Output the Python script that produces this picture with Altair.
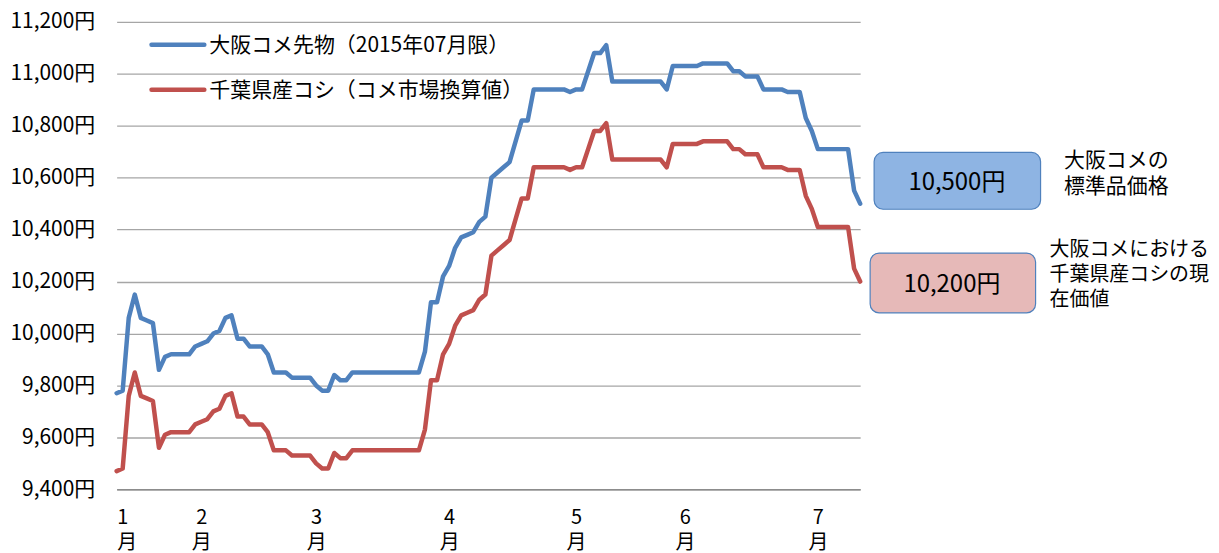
import altair as alt
import pandas as pd

FONT = "Noto Sans CJK JP"

# ---- data ----
month_labels = ["1", "2", "3", "4", "5", "6", "7"]
month_start_idx = [0, 14, 33, 55, 76, 94, 116]
y_ticks = [9400, 9600, 9800, 10000, 10200, 10400, 10600, 10800, 11000, 11200]
series_names = ["大阪コメ先物（2015年07月限）", "千葉県産コシ（コメ市場換算値）"]
series_colors = ["#4F81BD", "#C0504D"]

osaka = [
    9770, 9780, 10060, 10150, 10060, 10050, 10040, 9860, 9910, 9920,
    9920, 9920, 9920, 9950, 9960, 9970, 10000, 10010, 10060, 10070,
    9980, 9980, 9950, 9950, 9950, 9920, 9850, 9850, 9850, 9830,
    9830, 9830, 9830, 9800, 9780, 9780, 9840, 9820, 9820, 9850,
    9850, 9850, 9850, 9850, 9850, 9850, 9850, 9850, 9850, 9850,
    9850, 9930, 10120, 10120, 10220, 10260, 10330, 10370, 10380, 10390,
    10430, 10450, 10600, 10620, 10640, 10660, 10740, 10820, 10820, 10940,
    10940, 10940, 10940, 10940, 10940, 10930, 10940, 10940, 11010, 11080,
    11080, 11110, 10970, 10970, 10970, 10970, 10970, 10970, 10970, 10970,
    10970, 10940, 11030, 11030, 11030, 11030, 11030, 11040, 11040, 11040,
    11040, 11040, 11010, 11010, 10990, 10990, 10990, 10940, 10940, 10940,
    10940, 10930, 10930, 10930, 10830, 10780, 10710, 10710, 10710, 10710,
    10710, 10710, 10550, 10500,
]
chiba = [
    9470, 9480, 9760, 9850, 9760, 9750, 9740, 9560, 9610, 9620,
    9620, 9620, 9620, 9650, 9660, 9670, 9700, 9710, 9760, 9770,
    9680, 9680, 9650, 9650, 9650, 9620, 9550, 9550, 9550, 9530,
    9530, 9530, 9530, 9500, 9480, 9480, 9540, 9520, 9520, 9550,
    9550, 9550, 9550, 9550, 9550, 9550, 9550, 9550, 9550, 9550,
    9550, 9630, 9820, 9820, 9920, 9960, 10030, 10070, 10080, 10090,
    10130, 10150, 10300, 10320, 10340, 10360, 10440, 10520, 10520, 10640,
    10640, 10640, 10640, 10640, 10640, 10630, 10640, 10640, 10710, 10780,
    10780, 10810, 10670, 10670, 10670, 10670, 10670, 10670, 10670, 10670,
    10670, 10640, 10730, 10730, 10730, 10730, 10730, 10740, 10740, 10740,
    10740, 10740, 10710, 10710, 10690, 10690, 10690, 10640, 10640, 10640,
    10640, 10630, 10630, 10630, 10530, 10480, 10410, 10410, 10410, 10410,
    10410, 10410, 10250, 10200,
]
box_labels = ["10,500円", "10,200円"]
note_standard = ["大阪コメの", "標準品価格"]
note_present = ["大阪コメにおける", "千葉県産コシの現", "在価値"]

n = len(osaka)
df = pd.DataFrame({
    "idx": list(range(n)) + list(range(len(chiba))),
    "value": osaka + chiba,
    "series": [series_names[0]] * n + [series_names[1]] * len(chiba),
})

W, H = 746, 469

label_arr = "[" + ",".join("['%s','月']" % m for m in month_labels) + "]"
idx_arr = "[" + ",".join(str(i) for i in month_start_idx) + "]"
x_label_expr = label_arr + "[indexof(" + idx_arr + ", datum.value)]"

lines = alt.Chart(df).mark_line(strokeWidth=4.5, strokeJoin="round", strokeCap="round").encode(
    x=alt.X("idx:Q",
            scale=alt.Scale(domain=[0, n - 1], nice=False, zero=False),
            axis=alt.Axis(values=month_start_idx, labelExpr=x_label_expr, grid=False,
                          ticks=False, domain=True, domainColor="#8c8c8c", domainWidth=1.5,
                          labelFontSize=20, labelLineHeight=25, labelPadding=18,
                          labelBaseline="top", labelColor="black", labelFont=FONT,
                          title=None)),
    y=alt.Y("value:Q",
            scale=alt.Scale(domain=[9400, 11200], nice=False, zero=False),
            axis=alt.Axis(values=y_ticks, labelExpr="format(datum.value, ',') + '円'",
                          grid=True, gridColor="#a6a6a6", gridWidth=1.3, ticks=False,
                          domain=False, labelFontSize=21, labelPadding=22,
                          labelColor="black", labelFont=FONT, title=None)),
    color=alt.Color("series:N", scale=alt.Scale(domain=series_names, range=series_colors),
                    legend=None),
)

one = pd.DataFrame({"k": [0]})


def rule(x1, x2, y, color):
    return alt.Chart(one).mark_rule(strokeWidth=4.5, strokeCap="round", color=color).encode(
        x=alt.value(x1), x2=alt.value(x2), y=alt.value(y))


def text(t, x, y, size=20, align="left"):
    return alt.Chart(one).mark_text(align=align, baseline="middle", fontSize=size,
                                    font=FONT, color="black").encode(
        x=alt.value(x), y=alt.value(y), text=alt.value(t))


def box(x1, x2, y1, y2, fill):
    return alt.Chart(one).mark_rect(cornerRadius=9, fill=fill, stroke="#4F81BD",
                                    strokeWidth=1.2).encode(
        x=alt.value(x1), x2=alt.value(x2), y=alt.value(y1), y2=alt.value(y2))


layers = [lines,
          rule(35, 88, 23, series_colors[0]), text(series_names[0], 93, 24, 21),
          rule(35, 88, 68, series_colors[1]), text(series_names[1], 93, 69, 21),
          box(760, 927, 131, 188, "#8EB4E3"), text(box_labels[0], 843, 162, 24, "center"),
          box(756, 922, 232, 292, "#E6B9B8"), text(box_labels[1], 838, 264, 24, "center")]
for k, t in enumerate(note_standard):
    layers.append(text(t, 1003, 140 + 26 * k, 21, "center"))
for k, t in enumerate(note_present):
    layers.append(text(t, 936, 229 + 25 * k, 20, "left"))

chart = alt.layer(*layers).properties(
    width=W, height=H,
    autosize=alt.AutoSizeParams(type="none"),
    padding={"left": 109, "top": 13, "right": 352, "bottom": 70},
).configure(font=FONT, view=alt.ViewConfig(stroke=None))

chart.save("out.html", embed_options={"renderer": "svg", "actions": False})
